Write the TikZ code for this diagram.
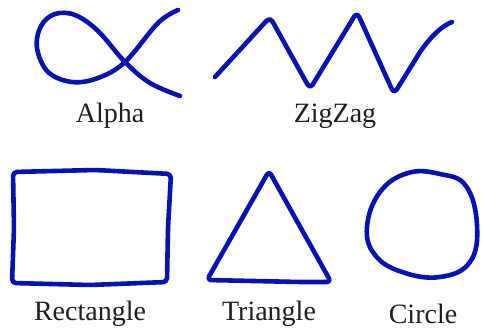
\documentclass[tikz,border=0pt]{standalone}
\usepackage{fontspec}
\setmainfont{Liberation Serif}
\definecolor{penblue}{RGB}{8,18,178}
\definecolor{labelgray}{RGB}{30,30,30}
\begin{document}
\begin{tikzpicture}[x=1pt,y=-1pt,
  pen/.style={draw=penblue,line width=4.6pt,line cap=round,line join=round},
  lbl/.style={text=labelgray,font=\fontsize{28}{31}\selectfont,anchor=base,inner sep=0pt}]
\useasboundingbox (0,0) rectangle (482,331);
% Alpha
\draw[pen] plot[smooth,tension=0.6] coordinates {(178,10) (158,23) (125,62) (98,78) (72,82) (48,72) (37,48) (41,26) (55,14) (75,15) (98,31) (125,62) (150,83) (180,96)};
\node[lbl] (alpha) at (110,123) {Alpha};
% ZigZag
\draw[pen,rounded corners=5pt] (215,77) -- (270,17) -- (310,89) -- (357,12) -- (394,94) -- (420,52);
\draw[pen] (420,52) .. controls (432,35) and (442,26) .. (452,22);
\node[lbl] (zigzag) at (335,123) {ZigZag};
% Rectangle
\draw[pen,rounded corners=4pt] (13,172) -- (95,170) -- (171,174) -- (168,228) -- (167,282) -- (90,285) -- (12,283) -- (14,228) -- cycle;
\node[lbl] (rect) at (90,320) {Rectangle};
% Triangle
\draw[pen,rounded corners=4pt] (269,171) -- (331,282) -- (300,282) -- (207,280) -- cycle;
\node[lbl] (tri) at (269,320) {Triangle};
% Circle
\draw[pen] plot[smooth cycle,tension=0.7] coordinates {(367,227) (380,192) (408,173) (440,174) (466,186) (477,225) (470,262) (440,277) (402,272) (375,255)};
\node[lbl] (circ) at (423,323) {Circle};
\end{tikzpicture}
\end{document}
